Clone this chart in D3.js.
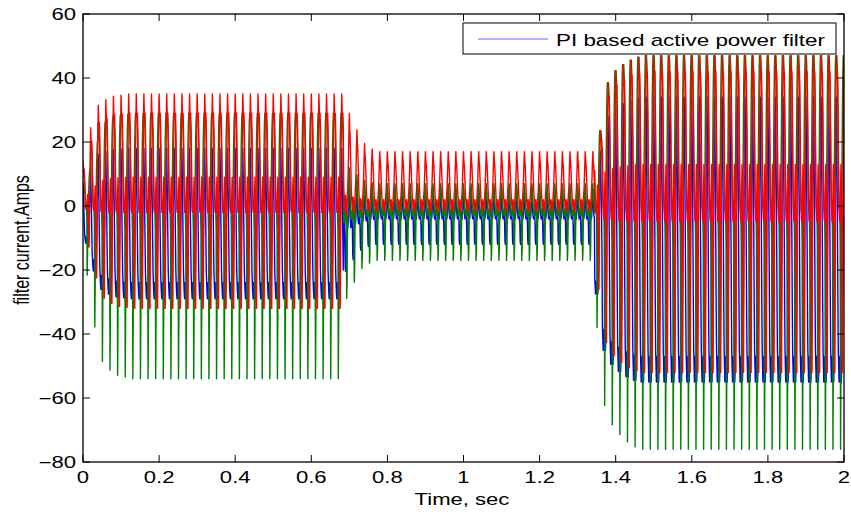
<!DOCTYPE html>
<html>
<head>
<meta charset="utf-8">
<script src="https://cdn.jsdelivr.net/npm/d3@7"></script>
<style>
  body { margin: 0; background: #fff; }
  svg { display: block; font-family: "Liberation Sans", Arial, sans-serif; }
</style>
</head>
<body>
<svg id="chart" width="851" height="515"></svg>
<script>
// Axis ticks
const xTicks = [0, 0.2, 0.4, 0.6, 0.8, 1, 1.2, 1.4, 1.6, 1.8, 2];
const yTicks = [-80, -60, -40, -20, 0, 20, 40, 60];

// Operating intervals (load changes), sec
const segStart = [0, 0.685, 1.345];
const sampleStep = 0.001;      // 1 ms samples, 20 per 50 Hz cycle

// One cycle of each phase current (Amps)
const blueCycles = [
  [18, 9, 0, -10, -20, -24, -27, -29, -24, -28, -29, -25, -27, -29, -26, -22, -14, -4, 6, 13],
  [5, 2, -2, -3, -4, -3, -2, -3, -5, -11, -12, -12, -6, -3, -2, -3, -4, -3, 0, 3],
  [34, 20, 5, -10, -30, -45, -50, -55, -47, -53, -55, -48, -52, -55, -50, -42, -25, -5, 12, 26]
];
const greenCycles = [
  [29, 29, 27, 24, 18, 10, 3, -1, -2, -2, -8, -54, -35, -2, 2, 10, 20, 26, 29, 29],
  [7, 5, 2, 0, -2, -3, -2, -1, -3, -3, -2, 0, -4, -17, -14, -5, -2, 0, 3, 6],
  [47, 47, 44, 38, 28, 15, 5, 0, -2, -2, -12, -76, -50, -2, 4, 16, 32, 42, 47, 47]
];
const redCycles = [
  [35, 30, 28, 29, 24, 15, 6, 0, -2, -1, -2, 4, 9, 3, -14, -32, -32, -12, 11, 27],
  [17, 14, 13, 10, 7, 4, 2, 0, -1, 0, 2, 1, 0, -2, 0, 2, 4, 6, 10, 14],
  [47, 42, 40, 42, 34, 22, 8, 0, -4, -5, -3, 5, 13, 6, -20, -52, -52, -18, 14, 38]
];

// Amplitude of the first cycles after each change (transients)
const startRamp = [
  [0.4, 0.7, 0.9, 0.95, 0.98, 0.99],
  [1.7, 1.4, 1.15, 1.05],
  [0.5, 0.82, 0.9, 0.94, 0.97, 0.99]
];

const legendLabel = "PI based active power filter";

const plot = { left: 83, right: 844, top: 14, bottom: 462 };
const sx = 1.38; // glyphs in the reference are stretched sideways

const x = d3.scaleLinear().domain([0, 2]).range([plot.left, plot.right]);
const y = d3.scaleLinear().domain([-80, 60]).range([plot.bottom, plot.top]);

const svg = d3.select("#chart");

// build a series by repeating the read cycle of the active interval
function buildSeries(cycles) {
  const n = Math.round(2 / sampleStep);
  const pts = [];
  for (let i = 0; i <= n; i++) {
    const t = i * sampleStep;
    let seg = 0;
    segStart.forEach((s, k) => { if (t >= s - 1e-9) seg = k; });
    const cyc = cycles[seg];
    const local = Math.floor((i - Math.round(segStart[seg] / sampleStep)) / cyc.length);
    const ramp = startRamp[seg][local] !== undefined ? startRamp[seg][local] : 1;
    pts.push([t, cyc[i % cyc.length] * ramp]);
  }
  return pts;
}

const series = [
  { color: "#0000ff", data: buildSeries(blueCycles) },
  { color: "#008000", data: buildSeries(greenCycles) },
  { color: "#ff0000", data: buildSeries(redCycles) }
];

svg.append("defs").append("clipPath").attr("id", "clip")
  .append("rect")
  .attr("x", plot.left).attr("y", plot.top)
  .attr("width", plot.right - plot.left).attr("height", plot.bottom - plot.top);

const line = d3.line().x(d => x(d[0])).y(d => y(d[1]));

svg.append("g").attr("clip-path", "url(#clip)")
  .selectAll("path")
  .data(series)
  .join("path")
  .attr("d", d => line(d.data))
  .attr("fill", "none")
  .attr("stroke", d => d.color)
  .attr("stroke-width", 1.4)
  .attr("stroke-linejoin", "round");

// axes, MATLAB-style box with inward ticks on all sides
const tickLen = 7;
const axisG = svg.append("g").attr("stroke", "#000").attr("stroke-width", 1);

axisG.selectAll("g.xt")
  .data(xTicks)
  .join(enter => {
    const g = enter.append("g").attr("class", "xt");
    g.append("line").attr("x1", d => x(d)).attr("x2", d => x(d))
      .attr("y1", plot.bottom).attr("y2", plot.bottom - tickLen);
    g.append("line").attr("x1", d => x(d)).attr("x2", d => x(d))
      .attr("y1", plot.top).attr("y2", plot.top + tickLen);
    return g;
  });

axisG.selectAll("g.yt")
  .data(yTicks)
  .join(enter => {
    const g = enter.append("g").attr("class", "yt");
    g.append("line").attr("x1", plot.left).attr("x2", plot.left + tickLen)
      .attr("y1", d => y(d)).attr("y2", d => y(d));
    g.append("line").attr("x1", plot.right).attr("x2", plot.right - tickLen)
      .attr("y1", d => y(d)).attr("y2", d => y(d));
    return g;
  });

svg.append("rect")
  .attr("x", plot.left).attr("y", plot.top)
  .attr("width", plot.right - plot.left).attr("height", plot.bottom - plot.top)
  .attr("fill", "none").attr("stroke", "#000").attr("stroke-width", 1.3);

function stretchedText(px, py, txt, anchor, size, extra) {
  return svg.append("text")
    .attr("transform", `translate(${px},${py}) scale(${sx},1)` + (extra || ""))
    .attr("text-anchor", anchor)
    .attr("font-size", size)
    .attr("fill", "#000")
    .text(txt);
}

xTicks.forEach(v => stretchedText(x(v), 483, d3.format("")(v), "middle", 16));
yTicks.forEach(v => stretchedText(plot.left - 7, y(v) + 6, d3.format("")(v), "end", 16));

stretchedText(462, 505, "Time, sec", "middle", 16);
stretchedText(29, 240, "filter current,Amps", "middle", 16, " rotate(-90)");

// legend
const lg = svg.append("g");
lg.append("rect")
  .attr("x", 463).attr("y", 23).attr("width", 373).attr("height", 31)
  .attr("fill", "#fff").attr("stroke", "#000").attr("stroke-width", 1);
lg.append("line")
  .attr("x1", 478).attr("x2", 548).attr("y1", 39).attr("y2", 39)
  .attr("stroke", "#0000ff").attr("stroke-width", 1).attr("stroke-opacity", 0.6);
lg.append("text")
  .attr("x", 556).attr("y", 46)
  .attr("font-size", 17)
  .attr("textLength", 269).attr("lengthAdjust", "spacingAndGlyphs")
  .text(legendLabel);
</script>
</body>
</html>
